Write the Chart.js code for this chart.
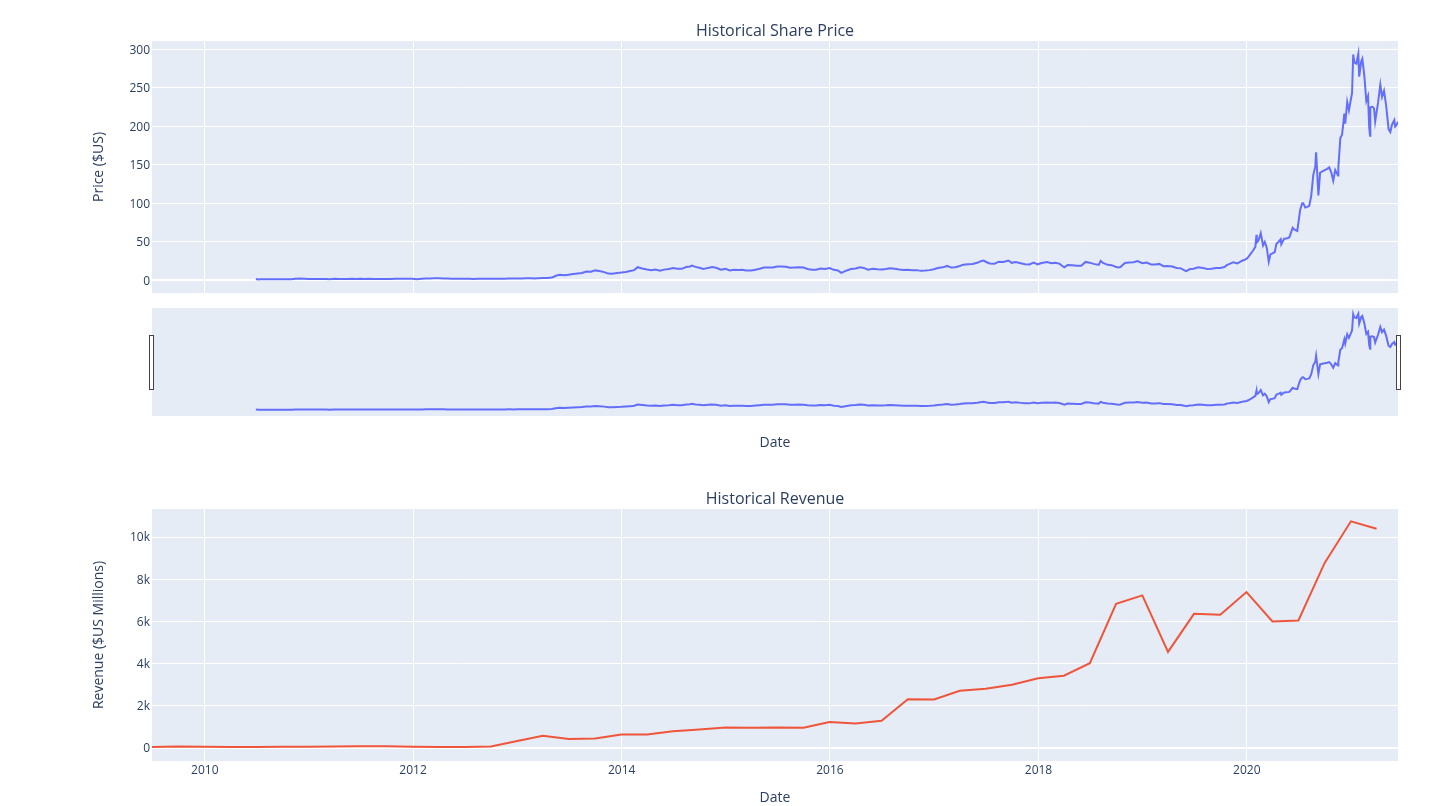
<!DOCTYPE html>
<html><head><meta charset="utf-8">
<script src="https://cdn.jsdelivr.net/npm/chart.js@4.4.1/dist/chart.umd.min.js"></script>
<style>
html,body{margin:0;padding:0;background:#fff;}
body{width:1443px;height:806px;position:relative;overflow:hidden;}
canvas{position:absolute;left:0;}
</style></head><body>
<canvas id="price" width="1443" height="300" style="top:0px"></canvas>
<canvas id="slider" width="1443" height="160" style="top:300px"></canvas>
<canvas id="revenue" width="1443" height="336" style="top:470px"></canvas>
<script>
// ---------- DATA ----------
const priceDates = [
'2010-06-29','2010-07-07','2010-07-15','2010-08-02','2010-08-16','2010-09-01','2010-09-15','2010-10-01','2010-10-15','2010-11-01','2010-11-15','2010-12-01','2010-12-15','2010-12-31',
'2011-01-14','2011-02-01','2011-02-15','2011-03-01','2011-03-15','2011-04-01','2011-04-15','2011-05-02','2011-05-16','2011-06-01','2011-06-15','2011-07-01','2011-07-15','2011-08-01','2011-08-15','2011-09-01','2011-09-15','2011-10-03','2011-10-14','2011-11-01','2011-11-15','2011-12-01','2011-12-15','2011-12-30',
'2012-01-13','2012-02-01','2012-02-15','2012-03-01','2012-03-15','2012-04-02','2012-04-16','2012-05-01','2012-05-15','2012-06-01','2012-06-15','2012-07-02','2012-07-16','2012-08-01','2012-08-15','2012-09-04','2012-09-17','2012-10-01','2012-10-15','2012-11-01','2012-11-15','2012-12-03','2012-12-17','2012-12-31',
'2013-01-15','2013-02-01','2013-02-15','2013-03-01','2013-03-15','2013-04-01','2013-04-15','2013-05-01','2013-05-09','2013-05-15','2013-05-29','2013-06-14','2013-06-28','2013-07-15','2013-07-31','2013-08-15','2013-08-30','2013-09-16','2013-09-30','2013-10-15','2013-11-01','2013-11-15','2013-11-29','2013-12-16','2013-12-31',
'2014-01-15','2014-01-31','2014-02-14','2014-02-26','2014-03-14','2014-03-31','2014-04-15','2014-04-30','2014-05-15','2014-05-30','2014-06-16','2014-06-30','2014-07-15','2014-07-31','2014-08-15','2014-08-29','2014-09-04','2014-09-17','2014-09-30','2014-10-15','2014-10-31','2014-11-14','2014-11-28','2014-12-15','2014-12-31',
'2015-01-15','2015-01-30','2015-02-13','2015-02-27','2015-03-13','2015-03-31','2015-04-15','2015-04-30','2015-05-15','2015-05-29','2015-06-15','2015-06-30','2015-07-15','2015-07-31','2015-08-14','2015-08-31','2015-09-15','2015-09-30','2015-10-15','2015-10-30','2015-11-13','2015-11-30','2015-12-15','2015-12-31',
'2016-01-15','2016-01-29','2016-02-10','2016-02-29','2016-03-15','2016-03-31','2016-04-15','2016-04-29','2016-05-13','2016-05-31','2016-06-15','2016-06-30','2016-07-15','2016-07-29','2016-08-15','2016-08-31','2016-09-15','2016-09-30','2016-10-14','2016-10-31','2016-11-15','2016-11-30','2016-12-15','2016-12-30',
'2017-01-13','2017-01-31','2017-02-15','2017-02-28','2017-03-15','2017-03-31','2017-04-13','2017-04-28','2017-05-15','2017-05-31','2017-06-15','2017-06-23','2017-06-30','2017-07-14','2017-07-31','2017-08-15','2017-08-31','2017-09-15','2017-09-18','2017-09-29','2017-10-13','2017-10-31','2017-11-15','2017-11-30','2017-12-15','2017-12-29',
'2018-01-12','2018-01-31','2018-02-15','2018-02-28','2018-03-15','2018-03-29','2018-04-02','2018-04-13','2018-04-30','2018-05-15','2018-05-31','2018-06-15','2018-06-29','2018-07-13','2018-07-31','2018-08-07','2018-08-15','2018-08-31','2018-09-14','2018-09-28','2018-10-08','2018-10-15','2018-10-31','2018-11-15','2018-11-30','2018-12-14','2018-12-31',
'2019-01-15','2019-01-31','2019-02-15','2019-02-28','2019-03-15','2019-03-29','2019-04-15','2019-04-30','2019-05-15','2019-05-31','2019-06-03','2019-06-14','2019-06-28','2019-07-15','2019-07-31','2019-08-15','2019-08-30','2019-09-16','2019-09-30','2019-10-15','2019-10-24','2019-10-31','2019-11-15','2019-11-29','2019-12-16','2019-12-31',
'2020-01-06','2020-01-15','2020-01-22','2020-01-31','2020-02-04','2020-02-05','2020-02-11','2020-02-19','2020-02-27','2020-03-04','2020-03-11','2020-03-18','2020-03-24','2020-03-31','2020-04-08','2020-04-14','2020-04-21','2020-04-29','2020-05-01','2020-05-11','2020-05-19','2020-05-29','2020-06-10','2020-06-15','2020-06-26','2020-07-06','2020-07-13','2020-07-17','2020-07-24','2020-07-31','2020-08-07','2020-08-14','2020-08-21','2020-08-28','2020-08-31','2020-09-08','2020-09-14','2020-09-22','2020-09-30','2020-10-09','2020-10-16','2020-10-23','2020-10-30','2020-11-06','2020-11-16','2020-11-17','2020-11-24','2020-11-30','2020-12-08','2020-12-11','2020-12-18','2020-12-24','2020-12-31',
'2021-01-04','2021-01-08','2021-01-12','2021-01-19','2021-01-26','2021-01-29','2021-02-05','2021-02-09','2021-02-16','2021-02-23','2021-03-01','2021-03-05','2021-03-08','2021-03-09','2021-03-16','2021-03-22','2021-03-26','2021-04-05','2021-04-13','2021-04-19','2021-04-26','2021-05-03','2021-05-12','2021-05-18','2021-05-24','2021-06-01','2021-06-04','2021-06-08','2021-06-11','2021-06-14'
];
const priceValues = [
1.59,1.05,1.33,1.37,1.28,1.29,1.39,1.36,1.37,1.45,2.0,2.2,2.02,1.77,
1.63,1.62,1.56,1.59,1.47,1.85,1.78,1.79,1.8,1.97,1.82,1.97,1.81,1.85,1.66,1.61,1.74,1.58,1.83,1.97,2.17,2.15,1.98,1.91,
1.52,1.94,2.3,2.29,2.5,2.51,2.26,2.22,1.89,1.93,2.0,2.05,2.07,1.79,1.95,1.89,1.97,1.91,1.85,1.87,2.09,2.27,2.2,2.26,
2.33,2.5,2.53,2.32,2.54,2.86,2.87,3.62,4.63,5.85,7.13,6.53,7.16,8.13,8.95,9.4,11.27,11.07,12.87,12.13,10.65,8.67,8.49,9.53,10.03,
10.9,12.1,13.2,17.0,15.4,13.9,13.1,13.86,12.3,13.85,14.8,16.0,14.9,14.9,17.2,17.98,19.1,17.4,16.2,14.7,16.1,17.2,16.3,13.7,14.8,
12.8,13.6,13.5,13.55,12.6,12.6,13.8,15.07,16.6,16.7,16.6,17.9,17.8,17.7,16.2,16.6,16.9,16.6,14.75,13.8,13.8,15.35,14.7,16.0,
13.6,12.7,9.58,12.8,14.55,15.3,17.0,16.05,13.8,14.9,14.3,14.15,14.7,15.65,15.0,14.1,13.4,13.6,13.1,13.2,12.25,12.6,13.2,14.25,
15.85,16.8,18.65,16.7,17.0,18.55,20.3,20.9,21.1,22.7,25.0,25.6,24.1,21.85,21.6,24.2,23.7,25.3,25.7,22.7,23.7,22.1,20.75,20.6,22.9,20.76,
22.4,23.6,22.3,22.9,21.7,17.7,16.8,20.0,19.6,18.9,19.0,23.9,22.9,21.3,19.9,25.3,22.6,20.1,19.7,17.65,16.7,17.3,22.5,23.2,23.4,25.1,22.2,
23.0,20.5,20.5,21.3,18.4,18.7,17.8,15.9,15.5,12.35,11.9,14.3,14.9,16.9,16.1,14.7,15.0,16.1,16.1,17.2,20.0,21.0,23.5,22.0,25.4,27.9,
30.1,34.6,38.0,43.4,59.1,49.0,51.6,61.2,45.3,50.0,42.3,24.1,33.7,34.9,36.6,47.3,49.8,53.4,46.8,54.1,54.2,55.7,68.3,66.1,64.0,91.4,99.8,100.0,94.5,95.4,96.8,110.0,136.7,147.6,166.1,110.1,139.9,141.4,143.0,144.7,146.6,140.2,129.3,143.3,136.0,147.2,185.1,189.2,216.6,203.3,231.7,220.6,235.2,
243.3,293.3,283.1,281.5,294.4,264.5,284.1,287.8,265.4,232.9,239.5,199.3,187.7,224.5,225.6,223.3,206.2,230.3,254.1,238.2,246.1,228.3,196.6,192.6,202.1,208.0,199.7,201.2,203.3,205.9
];
const revenueDates = [
'2009-06-30','2009-09-30','2010-03-31','2010-06-30','2010-09-30','2010-12-31',
'2011-03-31','2011-06-30','2011-09-30','2011-12-31','2012-03-31','2012-06-30','2012-09-30','2012-12-31',
'2013-03-31','2013-06-30','2013-09-30','2013-12-31','2014-03-31','2014-06-30','2014-09-30','2014-12-31',
'2015-03-31','2015-06-30','2015-09-30','2015-12-31','2016-03-31','2016-06-30','2016-09-30','2016-12-31',
'2017-03-31','2017-06-30','2017-09-30','2017-12-31','2018-03-31','2018-06-30','2018-09-30','2018-12-31',
'2019-03-31','2019-06-30','2019-09-30','2019-12-31','2020-03-31','2020-06-30','2020-09-30','2020-12-31','2021-03-31'
];
const revenueValues = [
27,46,21,28,31,36,
49,58,58,39,30,27,50,306,
562,405,431,615,621,769,852,957,
940,955,937,1214,1147,1270,2298,2285,
2696,2790,2985,3288,3409,4002,6824,7226,
4541,6350,6303,7384,5985,6036,8771,10744,10389
];
const yearTicks = ['2010-01-01','2012-01-01','2014-01-01','2016-01-01','2018-01-01','2020-01-01'];
const priceTicks = [0,50,100,150,200,250,300];
const revenueTicks = [0,2000,4000,6000,8000,10000];
const revenueTickLabels = ['0','2k','4k','6k','8k','10k'];

// ---------- HELPERS ----------
const FONT = "'Open Sans', 'Noto Sans', sans-serif";
const TXT = '#2a3f5f';
const pricePoints = priceDates.map((d, i) => ({x: Date.parse(d), y: priceValues[i]}));
const revenuePoints = revenueDates.map((d, i) => ({x: Date.parse(d), y: revenueValues[i]}));
const xMin = Math.min(Date.parse(revenueDates[0]), Date.parse(priceDates[0]));
const xMax = Math.max(Date.parse(revenueDates[revenueDates.length-1]), Date.parse(priceDates[priceDates.length-1]));
const yearTickObjs = () => yearTicks.map(d => ({value: Date.parse(d)}));

const plotBg = {id: 'plotBg', beforeDraw(chart) {
  const {ctx, chartArea: a} = chart;
  ctx.save(); ctx.fillStyle = '#E5ECF6';
  ctx.fillRect(a.left, a.top, a.right - a.left, a.bottom - a.top);
  ctx.restore();
}};
const handles = {id: 'handles', afterDraw(chart) {
  const {ctx, chartArea: a} = chart;
  const h = Math.round((a.bottom - a.top) / 2);
  const y = Math.round(a.top + (a.bottom - a.top - h) / 2) + 0.5;
  ctx.save(); ctx.fillStyle = '#fff'; ctx.strokeStyle = '#444'; ctx.lineWidth = 1;
  [a.left - 2.5, a.right - 1.5].forEach(x => { ctx.fillRect(x, y, 4, h); ctx.strokeRect(x, y, 4, h); });
  ctx.restore();
}};
const gridW = c => (c.tick && c.tick.value === 0 ? 2 : 1);
const base = {
  responsive: false, animation: false, events: [],
  plugins: {legend: {display: false}, tooltip: {enabled: false}}
};

// ---------- PRICE ----------
new Chart(document.getElementById('price'), {
  type: 'line',
  data: {datasets: [{data: pricePoints, borderColor: '#636EFA', borderWidth: 2, pointRadius: 0, tension: 0, fill: false}]},
  options: Object.assign({}, base, {
    layout: {padding: {left: 0, right: 45, top: 0, bottom: 7}},
    plugins: Object.assign({}, base.plugins, {
      title: {display: true, text: 'Historical Share Price', color: TXT, fullSize: false,
        font: {family: FONT, size: 16, weight: 'normal', lineHeight: 1.2}, padding: {top: 21.4, bottom: 0.4}}
    }),
    scales: {
      x: {type: 'linear', min: xMin, max: xMax,
        afterBuildTicks: s => { s.ticks = yearTickObjs(); },
        afterFit: s => { s.height = 0; s.paddingLeft = 0; s.paddingRight = 0; },
        ticks: {display: false, autoSkip: false},
        grid: {color: '#ffffff', lineWidth: 1, drawTicks: false}, border: {display: false}},
      y: {min: -16.5, max: 310.8,
        afterBuildTicks: s => { s.ticks = priceTicks.map(v => ({value: v})); },
        afterFit: s => { s.width = 152; s.paddingTop = 0; s.paddingBottom = 0; },
        ticks: {color: TXT, font: {family: FONT, size: 12}, padding: 2, autoSkip: false, labelOffset: 1},
        grid: {color: '#ffffff', lineWidth: gridW, drawTicks: false}, border: {display: false},
        title: {display: true, text: 'Price ($US)', color: TXT, font: {family: FONT, size: 14, lineHeight: 1.2}, padding: {top: 91, bottom: 0}}}
    }
  }),
  plugins: [plotBg]
});

// ---------- RANGE SLIDER ----------
new Chart(document.getElementById('slider'), {
  type: 'line',
  data: {datasets: [{data: pricePoints, borderColor: '#636EFA', borderWidth: 2, pointRadius: 0, tension: 0, fill: false}]},
  options: Object.assign({}, base, {
    layout: {padding: {left: 152, right: 45, top: 8, bottom: 0}},
    scales: {
      x: {type: 'linear', min: xMin, max: xMax,
        afterFit: s => { s.height = 44; s.paddingLeft = 0; s.paddingRight = 0; },
        ticks: {display: false}, grid: {display: false, drawTicks: false}, border: {display: false},
        title: {display: true, text: 'Date', color: TXT, font: {family: FONT, size: 14, lineHeight: 1.2}, padding: {top: 0, bottom: 8.8}}},
      y: {display: false, min: -18, max: 312}
    }
  }),
  plugins: [plotBg, handles]
});

// ---------- REVENUE ----------
new Chart(document.getElementById('revenue'), {
  type: 'line',
  data: {datasets: [{data: revenuePoints, borderColor: '#EF553B', borderWidth: 2, pointRadius: 0, tension: 0, fill: false}]},
  options: Object.assign({}, base, {
    layout: {padding: {left: 0, right: 45, top: 0, bottom: 0}},
    plugins: Object.assign({}, base.plugins, {
      title: {display: true, text: 'Historical Revenue', color: TXT, fullSize: false,
        font: {family: FONT, size: 16, weight: 'normal', lineHeight: 1.2}, padding: {top: 19.4, bottom: 0.4}}
    }),
    scales: {
      x: {type: 'linear', min: xMin, max: xMax,
        afterBuildTicks: s => { s.ticks = yearTickObjs(); },
        afterFit: s => { s.height = 45; s.paddingLeft = 0; s.paddingRight = 0; },
        ticks: {color: TXT, font: {family: FONT, size: 12}, padding: 2, autoSkip: false, maxRotation: 0,
          callback: v => String(new Date(v).getUTCFullYear())},
        grid: {color: '#ffffff', lineWidth: 1, drawTicks: false}, border: {display: false},
        title: {display: true, text: 'Date', color: TXT, font: {family: FONT, size: 14, lineHeight: 1.2}, padding: {top: 0, bottom: -0.6}}},
      y: {min: -640, max: 11330,
        afterBuildTicks: s => { s.ticks = revenueTicks.map(v => ({value: v})); },
        afterFit: s => { s.width = 152; s.paddingTop = 0; s.paddingBottom = 0; },
        ticks: {color: TXT, font: {family: FONT, size: 12}, padding: 2, autoSkip: false, labelOffset: 1,
          callback: v => revenueTickLabels[revenueTicks.indexOf(v)]},
        grid: {color: '#ffffff', lineWidth: gridW, drawTicks: false}, border: {display: false},
        title: {display: true, text: 'Revenue ($US Millions)', color: TXT, font: {family: FONT, size: 14, lineHeight: 1.2}, padding: {top: 91, bottom: 0}}}
    }
  }),
  plugins: [plotBg]
});
</script>
</body></html>
